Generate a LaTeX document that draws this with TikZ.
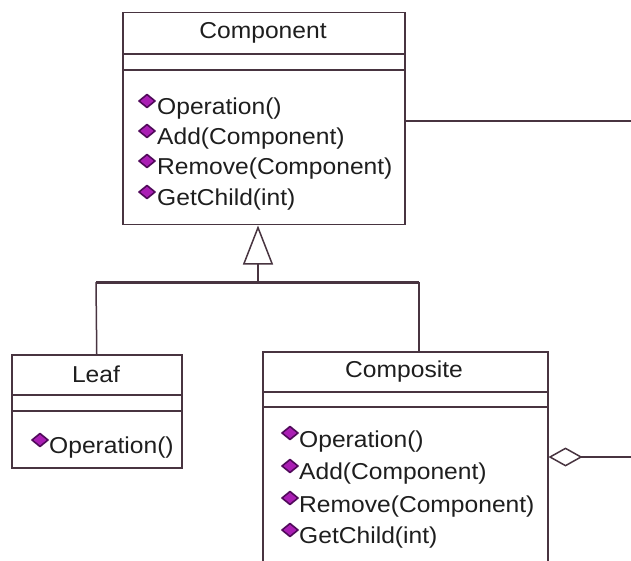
\documentclass[tikz,border=0pt]{standalone}
\usepackage{fontspec}
\setmainfont{Liberation Sans}[FakeStretch=1.07]
\usetikzlibrary{arrows.meta}
\definecolor{umlline}{RGB}{72,52,64}
\definecolor{umltext}{RGB}{30,30,30}
\definecolor{opfill}{RGB}{170,30,180}
\definecolor{opedge}{RGB}{80,10,90}

\tikzset{
  classbox/.style={draw=umlline, line width=1.5pt, fill=white, anchor=north west, inner sep=0pt},
  sepline/.style={draw=umlline, line width=1.5pt},
  title/.style={text=umltext, inner sep=0pt, font=\fontsize{23}{28}\selectfont},
  optext/.style={text=umltext, inner sep=0pt, anchor=west, font=\fontsize{23}{28}\selectfont},
  opicon/.style={draw=opedge, fill=opfill, line width=1.6pt, line join=round},
  link/.style={draw=umlline, line width=1.5pt},
  genbar/.style={draw=umlline, line width=3pt},
}
% operation marker: a small filled diamond centred on the given point
\newcommand\opmark[1]{\path[opicon] (#1) +(-8,0) -- +(0,-6.5) -- +(8,0) -- +(0,6.5) -- cycle;}

\begin{document}
\begin{tikzpicture}[x=1pt, y=-1pt]
\useasboundingbox[fill=white] (0,0) rectangle (631,561);

% ---- abstract Component class ----
\node[classbox, minimum width=282pt, minimum height=212pt] (component) at (122,12) {};
\draw[sepline] (component.west |- 0,54) -- (component.east |- 0,54);
\draw[sepline] (component.west |- 0,70) -- (component.east |- 0,70);
\node[title] (componentname) at (263,33) {Component};
\node[optext] (cop1t) at (157,109) {Operation()};
\node[optext] (cop2t) at (157,139) {Add(Component)};
\node[optext] (cop3t) at (157,169) {Remove(Component)};
\node[optext] (cop4t) at (157,200) {GetChild(int)};
\opmark{147,101}
\opmark{147,131}
\opmark{147,161}
\opmark{147,192}

% ---- Leaf class ----
\node[classbox, minimum width=170pt, minimum height=113pt] (leaf) at (11,354) {};
\draw[sepline] (leaf.west |- 0,395) -- (leaf.east |- 0,395);
\draw[sepline] (leaf.west |- 0,411) -- (leaf.east |- 0,411);
\node[title] (leafname) at (96,374) {Leaf};
\node[optext] (lop1t) at (49,448) {Operation()};
\opmark{40,440}

% ---- Composite class ----
\node[classbox, minimum width=285pt, minimum height=225pt] (composite) at (262,351) {};
\draw[sepline] (composite.west |- 0,392) -- (composite.east |- 0,392);
\draw[sepline] (composite.west |- 0,407) -- (composite.east |- 0,407);
\node[title] (compositename) at (404,372) {Composite};
\node[optext] (kop1t) at (299,442) {Operation()};
\node[optext] (kop2t) at (299,474) {Add(Component)};
\node[optext] (kop3t) at (299,507) {Remove(Component)};
\node[optext] (kop4t) at (299,538) {GetChild(int)};
\opmark{290,433}
\opmark{290,466}
\opmark{290,498}
\opmark{290,530}

% ---- generalization: Leaf and Composite inherit from Component ----
\coordinate (hub) at (258,282);
\coordinate (leafjoin) at (96,282);
\coordinate (compjoin) at (419,282);
\draw[genbar] (leafjoin) -- (compjoin);
\draw[link] (leaf.north) -- (leafjoin);
\draw[link] (composite.north -| compjoin) -- (compjoin);
\draw[link, -{Triangle[open, length=39pt, width=30pt, fill=white]}]
  (hub) -- (component.south -| hub);

% ---- child associations running off to the right ----
\coordinate (compout) at (631,121);
\draw[link] (component.east |- compout) -- (compout);
\coordinate (aggrout) at (631,457);
\draw[link, {Diamond[open, length=34pt, width=19pt, fill=white]}-]
  (composite.east |- aggrout) -- (aggrout);
\end{tikzpicture}
\end{document}
